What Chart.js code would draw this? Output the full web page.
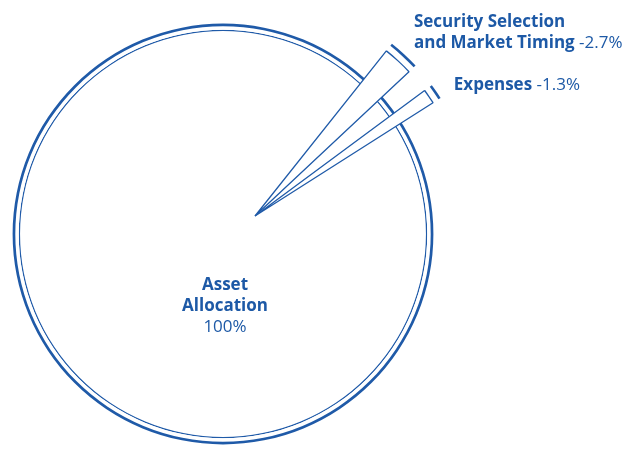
<!DOCTYPE html>
<html>
<head>
<meta charset="utf-8">
<script src="https://cdn.jsdelivr.net/npm/chart.js@4.4.1/dist/chart.umd.min.js"></script>
<style>
  html, body { margin: 0; padding: 0; background: #fff; overflow: hidden; }
  #wrap { position: relative; width: 624px; height: 449px; }
  canvas { position: absolute; left: 0; top: 0; }
</style>
</head>
<body>
<div id="wrap">
  <canvas id="main" width="624" height="449"></canvas>
  <canvas id="sel" width="624" height="449"></canvas>
  <canvas id="exp" width="624" height="449"></canvas>
</div>
<script>
var categories = ['Asset Allocation', 'Security Selection and Market Timing', 'Expenses'];
var labelLines = [['Asset', 'Allocation'], ['Security Selection', 'and Market Timing'], ['Expenses']];
var values = [100, -2.7, -1.3];

var BLUE = '#1f5aa8';
var TEXT = '#1d59a6';
var CLEAR = 'rgba(0,0,0,0)';
var FONT = '"Open Sans", Lato, sans-serif';
// the wedges in the original are drawn a bit narrower than 3.6 deg per percent
var degPerPct = 3.1;
var fullTurn = 360 / degPerPct;

// padding that puts the middle of the chart area on (cx, cy)
function centreOn(cx, cy) {
  return {
    left: Math.max(0, 2 * cx - 624),
    right: Math.max(0, 624 - 2 * cx),
    top: Math.max(0, 2 * cy - 449),
    bottom: Math.max(0, 449 - 2 * cy)
  };
}

function fmt(v) {
  return v + '%';
}

// double rim: thick outer ring, white gap, thin inner ring, white body
new Chart(document.getElementById('main'), {
  type: 'pie',
  data: {
    labels: [categories[0]],
    datasets: [
      { data: [values[0]], backgroundColor: BLUE, borderWidth: 0, weight: 2.7 },
      { data: [values[0]], backgroundColor: '#fff', borderWidth: 0, weight: 3.45 },
      { data: [values[0]], backgroundColor: BLUE, borderWidth: 0, weight: 1.3 },
      { data: [values[0]], backgroundColor: '#fff', borderWidth: 0, weight: 202.95 }
    ]
  },
  options: {
    responsive: false,
    animation: false,
    events: [],
    radius: 210.4,
    layout: { padding: centreOn(223, 234) },
    plugins: { legend: { display: false }, tooltip: { enabled: false } }
  },
  plugins: [{
    id: 'mainLabel',
    afterDraw: function(chart) {
      var ctx = chart.ctx;
      var arc = chart.getDatasetMeta(3).data[0];
      var x = arc.x + 2, y = arc.y;
      ctx.save();
      ctx.fillStyle = TEXT;
      ctx.textAlign = 'center';
      ctx.font = 'bold 17px ' + FONT;
      ctx.fillText(labelLines[0][0], x, y + 56);
      ctx.fillText(labelLines[0][1], x, y + 77);
      ctx.font = '17px ' + FONT;
      ctx.fillText(fmt(values[0]), x, y + 98);
      ctx.restore();
    }
  }]
});

function makeWedge(id, idx, rotation) {
  var size = Math.abs(values[idx]);
  var slice = [size, fullTurn - size];
  new Chart(document.getElementById(id), {
    type: 'pie',
    data: {
      labels: [categories[idx], ''],
      datasets: [
        { data: slice, backgroundColor: [BLUE, CLEAR], borderWidth: 0, weight: 2.6 },
        { data: slice, backgroundColor: CLEAR, borderWidth: 0, weight: 6.4 },
        { data: slice, backgroundColor: ['#fff', CLEAR], borderColor: BLUE, borderWidth: [1.3, 0], weight: 211 }
      ]
    },
    options: {
      responsive: false,
      animation: false,
      events: [],
      rotation: rotation,
      radius: 220,
      layout: { padding: centreOn(255, 216) },
      plugins: { legend: { display: false }, tooltip: { enabled: false } }
    },
    plugins: [{
      id: 'wedgeLabel',
      afterDraw: function(chart) {
        var ctx = chart.ctx;
        var arc = chart.getDatasetMeta(0).data[0];
        var ax = arc.x + Math.cos(arc.startAngle) * arc.outerRadius;
        var ay = arc.y + Math.sin(arc.startAngle) * arc.outerRadius;
        var lines = labelLines[idx];
        var x = ax + 22, y = ay + 4.5 - (lines.length - 1) * 21;
        ctx.save();
        ctx.fillStyle = TEXT;
        ctx.textAlign = 'left';
        ctx.font = 'bold 17px ' + FONT;
        for (var i = 0; i < lines.length; i++) {
          ctx.fillText(lines[i], x, y + i * 21);
        }
        var last = lines[lines.length - 1];
        var w = ctx.measureText(last + ' ').width;
        ctx.font = '17px ' + FONT;
        ctx.fillText(fmt(values[idx]), x + w, y + (lines.length - 1) * 21);
        ctx.restore();
      }
    }]
  });
}

makeWedge('sel', 1, 38.5);
makeWedge('exp', 2, 53.5);
</script>
</body>
</html>
